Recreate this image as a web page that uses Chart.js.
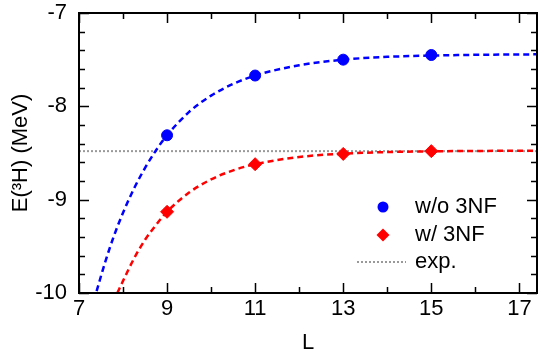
<!DOCTYPE html>
<html>
<head>
<meta charset="utf-8">
<script src="https://cdn.jsdelivr.net/npm/chart.js@4"></script>
<style>
  html, body { margin: 0; padding: 0; background: #fff; }
  #wrap { width: 540px; height: 356px; }
</style>
</head>
<body>
<div id="wrap"><canvas id="c" width="540" height="356"></canvas></div>
<script>
// calculated points
const L = [9, 11, 13, 15];
const eNo3NF = [-8.31, -7.67, -7.50, -7.45];
const eWith3NF = [-9.13, -8.62, -8.51, -8.48];
const eExp = -8.48;

// dashed fit curves
const fitNoL = [7.4, 7.6, 7.8, 8, 8.25, 8.5, 8.75, 9, 9.5, 10, 10.5, 11, 12, 13, 14, 15, 16, 17.4];
const fitNoE = [-9.98, -9.66, -9.38, -9.14, -8.88, -8.66, -8.47, -8.31, -8.06, -7.885, -7.76, -7.67, -7.56, -7.50, -7.47, -7.456, -7.448, -7.443];
const fitWithL = [7.87, 8, 8.25, 8.5, 8.75, 9, 9.5, 10, 10.5, 11, 12, 13, 14, 15, 16, 17.4];
const fitWithE = [-10.0, -9.87, -9.63, -9.43, -9.27, -9.13, -8.924, -8.783, -8.686, -8.62, -8.543, -8.507, -8.49, -8.482, -8.478, -8.476];

const xTicks = [7, 9, 11, 13, 15, 17];
const yTicks = [-10, -9, -8, -7];
const xMin = 7, xMax = 17.4, yMin = -10, yMax = -7;

const pts = (xs, ys) => xs.map((x, i) => ({x: x, y: ys[i]}));
const FONT = 'Liberation Sans, Arial, sans-serif';

// inward ticks on all four sides + frame + legend
const frame = {
  id: 'frame',
  afterDraw(chart) {
    const {ctx, chartArea: a, scales: {x, y}} = chart;
    ctx.save();
    ctx.strokeStyle = '#000';
    ctx.lineWidth = 2;
    ctx.strokeRect(a.left, a.top, a.right - a.left, a.bottom - a.top);
    ctx.lineWidth = 1.5;
    ctx.beginPath();
    for (let v = xMin; v <= xMax + 1e-9; v += 1) {
      const p = Math.round(x.getPixelForValue(v)) + 0.5;
      const len = (v - 7) % 2 === 0 ? 10 : 6;
      ctx.moveTo(p, a.bottom); ctx.lineTo(p, a.bottom - len);
      ctx.moveTo(p, a.top); ctx.lineTo(p, a.top + len);
    }
    for (let k = 0; k <= 15; k++) {
      const v = yMin + k * 0.2;
      const p = Math.round(y.getPixelForValue(v)) + 0.5;
      const len = k % 5 === 0 ? 10 : 6;
      ctx.moveTo(a.left, p); ctx.lineTo(a.left + len, p);
      ctx.moveTo(a.right, p); ctx.lineTo(a.right - len, p);
    }
    ctx.stroke();

    // legend
    ctx.fillStyle = '#0000ff';
    ctx.beginPath(); ctx.arc(383, 207, 5.5, 0, Math.PI * 2); ctx.fill();
    ctx.fillStyle = '#ff0000';
    ctx.beginPath();
    ctx.moveTo(383, 228.5); ctx.lineTo(389.5, 235); ctx.lineTo(383, 241.5); ctx.lineTo(376.5, 235);
    ctx.closePath(); ctx.fill();
    ctx.strokeStyle = '#999';
    ctx.lineWidth = 2;
    ctx.setLineDash([2, 2]);
    ctx.beginPath(); ctx.moveTo(357, 262); ctx.lineTo(406, 262); ctx.stroke();
    ctx.setLineDash([]);
    ctx.fillStyle = '#000';
    ctx.font = '22px ' + FONT;
    ctx.textBaseline = 'middle';
    ctx.fillText('w/o 3NF', 415, 207);
    ctx.fillText('w/ 3NF', 415, 235);
    ctx.fillText('exp.', 415, 262);
    ctx.restore();
  }
};

new Chart(document.getElementById('c'), {
  type: 'scatter',
  data: {
    datasets: [
      {label: 'exp.', data: [{x: xMin, y: eExp}, {x: xMax, y: eExp}], showLine: true,
       borderColor: '#999', borderWidth: 2, borderDash: [2, 2], pointRadius: 0, order: 5},
      {label: 'fit no', data: pts(fitNoL, fitNoE), showLine: true, cubicInterpolationMode: 'monotone',
       borderColor: '#0000ff', borderWidth: 2.5, borderDash: [6, 4], pointRadius: 0, order: 4},
      {label: 'fit with', data: pts(fitWithL, fitWithE), showLine: true, cubicInterpolationMode: 'monotone',
       borderColor: '#ff0000', borderWidth: 2.5, borderDash: [6, 4], pointRadius: 0, order: 3},
      {label: 'w/o 3NF', data: pts(L, eNo3NF), pointStyle: 'circle', pointRadius: 5.5,
       backgroundColor: '#0000ff', borderColor: '#0000ff', order: 2},
      {label: 'w/ 3NF', data: pts(L, eWith3NF), pointStyle: 'rectRot', pointRadius: 6.5,
       backgroundColor: '#ff0000', borderColor: '#ff0000', order: 1}
    ]
  },
  options: {
    responsive: false,
    animation: false,
    layout: {autoPadding: false, padding: {left: 0, right: 3, top: 13, bottom: 0}},
    plugins: {legend: {display: false}, tooltip: {enabled: false}},
    scales: {
      x: {
        type: 'linear', min: xMin, max: xMax,
        afterBuildTicks: s => { s.ticks = xTicks.map(v => ({value: v})); },
        afterFit: s => { s.height = 63; s.paddingLeft = 0; s.paddingRight = 0; },
        grid: {display: false, drawTicks: false},
        border: {display: false},
        ticks: {color: '#000', font: {size: 22, family: FONT}, padding: 3, maxRotation: 0},
        title: {display: true, text: 'L', color: '#000', font: {size: 22, family: FONT}, padding: {top: 0, bottom: 0}}
      },
      y: {
        type: 'linear', min: yMin, max: yMax,
        afterBuildTicks: s => { s.ticks = yTicks.map(v => ({value: v})); },
        afterFit: s => { s.width = 79; s.paddingTop = 0; s.paddingBottom = 0; },
        grid: {display: false, drawTicks: false},
        border: {display: false},
        ticks: {color: '#000', font: {size: 22, family: FONT}, padding: 12},
        title: {display: true, text: 'E(³H) (MeV)', color: '#000', font: {size: 22, family: FONT}, padding: {top: 8, bottom: 0}}
      }
    }
  },
  plugins: [frame]
});
</script>
</body>
</html>
